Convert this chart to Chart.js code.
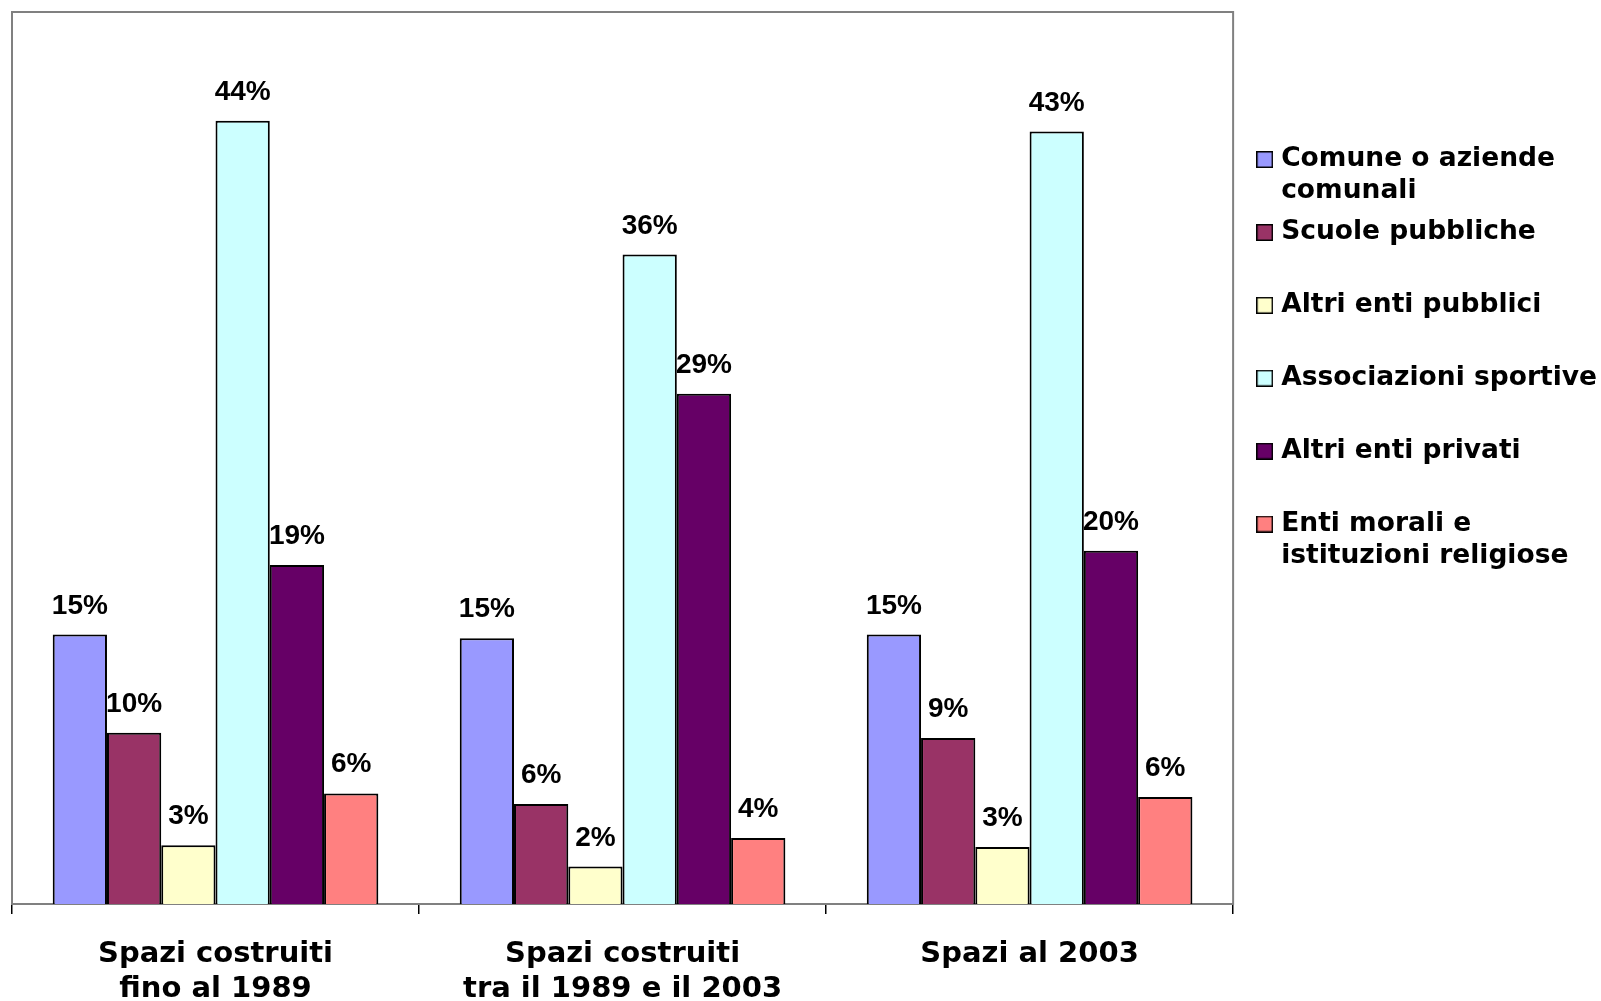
<!DOCTYPE html>
<html lang="it">

<head>
    <meta charset="UTF-8">
    <title>Spazi sportivi per proprietario</title>
    <script src="https://cdn.jsdelivr.net/npm/chart.js"></script>
    <style>
        body { margin: 0; background: #fff; }
        .box { width: 1601px; height: 1001px; position: relative; }
    </style>
</head>

<body>
    <div class="box">
        <canvas id="grafico"></canvas>
    </div>

<script>
    // categorie (asse x)
    const categorie = [
        ['Spazi costruiti', 'fino al 1989'],
        ['Spazi costruiti', 'tra il 1989 e il 2003'],
        'Spazi al 2003'
    ];

    // valori in %
    const comune = [15.1, 14.9, 15.1];
    const scuole = [9.6, 5.6, 9.3];
    const altriPubblici = [3.3, 2.1, 3.2];
    const associazioni = [43.9, 36.4, 43.3];
    const altriPrivati = [19.0, 28.6, 19.8];
    const entiMorali = [6.2, 3.7, 6.0];

    // voci della legenda (su due righe come in Excel)
    const voci = [
        ['Comune o aziende', 'comunali'],
        ['Scuole pubbliche', ''],
        ['Altri enti pubblici', ''],
        ['Associazioni sportive', ''],
        ['Altri enti privati', ''],
        ['Enti morali e', 'istituzioni religiose']
    ];
    const colori = ['#9999FF', '#993366', '#FFFFCC', '#CCFFFF', '#660066', '#FF8080'];
    const serie = [comune, scuole, altriPubblici, associazioni, altriPrivati, entiMorali];

    // quadratino della legenda (17px con bordo nero)
    function quadratino(colore) {
        const c = document.createElement('canvas');
        c.width = 17;
        c.height = 17;
        const g = c.getContext('2d');
        g.fillStyle = colore;
        g.fillRect(0, 0, 17, 17);
        g.strokeStyle = '#000';
        g.lineWidth = 1.5;
        g.strokeRect(0.75, 0.75, 15.5, 15.5);
        return c;
    }

    // etichette sopra le barre
    const etichette = {
        id: 'etichette',
        afterDatasetsDraw(chart) {
            const ctx = chart.ctx;
            ctx.save();
            ctx.font = 'bold 28px "Liberation Sans", Arial, sans-serif';
            ctx.fillStyle = '#000';
            ctx.textAlign = 'center';
            ctx.textBaseline = 'alphabetic';
            chart.data.datasets.forEach(function (ds, i) {
                chart.getDatasetMeta(i).data.forEach(function (bar, j) {
                    ctx.fillText(Math.round(ds.data[j]) + '%', bar.x, bar.y - 21);
                });
            });
            ctx.restore();
        }
    };

    // cornice grigia dell'area del grafico
    const cornice = {
        id: 'cornice',
        beforeDatasetsDraw(chart) {
            const a = chart.chartArea;
            const ctx = chart.ctx;
            ctx.save();
            ctx.strokeStyle = '#808080';
            ctx.lineWidth = 2;
            ctx.strokeRect(a.left, a.top, a.right - a.left, a.bottom - a.top);
            ctx.restore();
        }
    };

    const dati = {
        labels: categorie,
        datasets: serie.map(function (valori, i) {
            return {
                label: voci[i].join(' ').trim(),
                data: valori,
                backgroundColor: colori[i],
                borderColor: '#000',
                borderWidth: 2
            };
        })
    };

    const config = {
        type: 'bar',
        data: dati,
        options: {
            responsive: true,
            maintainAspectRatio: false,
            animation: false,
            layout: { padding: { left: 12, top: 12, right: -6, bottom: 0 } },
            datasets: { bar: { categoryPercentage: 0.8, barPercentage: 1 } },
            scales: {
                x: {
                    grid: { display: true, drawOnChartArea: false, drawTicks: true, tickLength: 10, color: '#000', lineWidth: 1.5 },
                    border: { display: true, color: '#000', width: 2 },
                    ticks: {
                        color: '#000',
                        padding: 22,
                        maxRotation: 0,
                        font: { family: '"DejaVu Sans", Verdana, sans-serif', size: 29, weight: 'bold', lineHeight: 1.24 }
                    },
                    afterFit: function (scale) { scale.height = 97; }
                },
                y: {
                    position: 'right',
                    min: 0,
                    max: 50,
                    grid: { display: false },
                    border: { display: false },
                    ticks: { display: false },
                    afterFit: function (scale) { scale.width = 19; }
                }
            },
            plugins: {
                tooltip: { enabled: false },
                legend: {
                    position: 'right',
                    align: 'start',
                    title: { display: true, text: ' ', font: { size: 10 }, padding: { top: 113, bottom: 0 } },
                    labels: {
                        color: '#000',
                        usePointStyle: true,
                        pointStyleWidth: 6.5,
                        boxHeight: 17,
                        padding: 9.3,
                        font: { family: '"DejaVu Sans", Verdana, sans-serif', size: 26.5, weight: 'bold', lineHeight: 1.2 },
                        generateLabels: function (chart) {
                            const base = Chart.defaults.plugins.legend.labels.generateLabels(chart);
                            return base.map(function (item) {
                                item.text = voci[item.datasetIndex];
                                item.pointStyle = quadratino(colori[item.datasetIndex]);
                                return item;
                            });
                        }
                    }
                }
            }
        },
        plugins: [cornice, etichette]
    };

    new Chart(document.getElementById('grafico'), config);
</script>
</body>

</html>
